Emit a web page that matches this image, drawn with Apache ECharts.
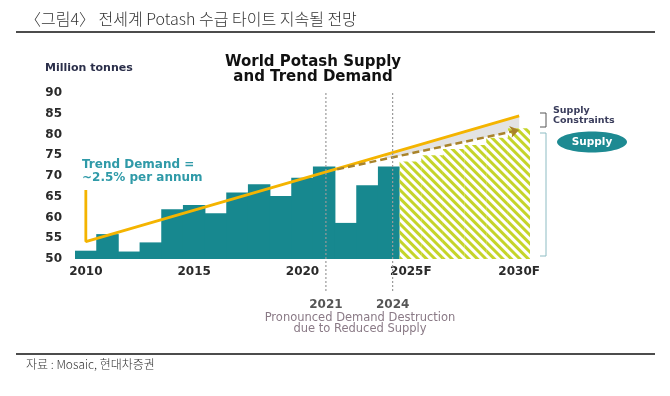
<!DOCTYPE html>
<html>
<head>
<meta charset="utf-8">
<script src="https://cdn.jsdelivr.net/npm/echarts@6/dist/echarts.min.js"></script>
<style>
  html, body { margin: 0; padding: 0; background: #fff; }
  #chart { width: 670px; height: 396px; }
</style>
</head>
<body>
<div id="chart"></div>
<script>
// categories
const years = ['2010', '2011', '2012', '2013', '2014', '2015', '2016', '2017', '2018', '2019',
  '2020', '2021', '2022', '2023', '2024', '2025F', '2026F', '2027F', '2028F', '2029F', '2030F']
// million tonnes
const actualSupply = [52, 56, 51.8, 54, 62, 63, 61, 66, 68, 65.2, 69.6, 72.3, 58.7, 67.8, 72.3]
const forecastSupply = [73.5, 75, 76.5, 77.5, 79.2, 81.5]
// [year index, value]
const trendDemand = [[0, 66.6], [0, 54.2], [20, 84.5]]
const constrainedDemand = [[11.6, 71.6], [20, 81.1]]
const gapTop = [[13.8, 75.1], [20, 84.5]]
const gapBottom = [[13.8, 74.1], [20, 81.1]]
const markerPos = [11.08, 14.16]
const markerLabels = ['2021', '2024']

const teal = '#17888f'
const gold = '#f4b400'
const fontBold = 'DejaVu Sans, Liberation Sans, sans-serif'
const fontKr = 'Noto Sans CJK KR, sans-serif'

const chart = echarts.init(document.getElementById('chart'))

const pad = n => Array(n).fill('-')

const baseGraphic = [
  // header
  { type: 'text', left: 25, top: 11, style: { text: '〈그림4〉 전세계 Potash 수급 타이트 지속될 전망', font: '300 16px ' + fontKr, fill: '#333' } },
  { type: 'line', shape: { x1: 16, y1: 32, x2: 655, y2: 32 }, style: { stroke: '#111', lineWidth: 1.5 } },
  // footer
  { type: 'line', shape: { x1: 16, y1: 354, x2: 655, y2: 354 }, style: { stroke: '#111', lineWidth: 1.5 } },
  { type: 'text', left: 26, top: 358, style: { text: '자료 : Mosaic, 현대차증권', font: '300 12px ' + fontKr, fill: '#333' } },
  // chart titles
  { type: 'text', left: 45, top: 63, style: { text: 'Million tonnes', font: 'bold 11px ' + fontBold, fill: '#2b2f4a' } },
  { type: 'text', x: 313, y: 55, style: { text: 'World Potash Supply\nand Trend Demand', font: 'bold 15px ' + fontBold, fill: '#111', align: 'center', lineHeight: 15 } },
  { type: 'text', x: 82, y: 158, style: { text: 'Trend Demand =\n~2.5% per annum', font: 'bold 12px ' + fontBold, fill: '#2f9aa8', lineHeight: 13 } },
  // right side notes
  { type: 'polyline', shape: { points: [[540, 113], [546, 113], [546, 127], [540, 127]] }, style: { stroke: '#555', lineWidth: 1, fill: null } },
  { type: 'text', x: 553, y: 106, style: { text: 'Supply\nConstraints', font: 'bold 9.5px ' + fontBold, fill: '#3a3d5c', lineHeight: 10 } },
  { type: 'polyline', shape: { points: [[540, 133], [546, 133], [546, 256], [540, 256]] }, style: { stroke: '#8dbcc3', lineWidth: 1, fill: null } },
  { type: 'ellipse', shape: { cx: 592, cy: 142, rx: 35, ry: 10.5 }, style: { fill: '#1d8a92' } },
  { type: 'text', x: 592, y: 142, style: { text: 'Supply', font: 'bold 10.5px ' + fontBold, fill: '#fff', align: 'center', verticalAlign: 'middle' } },
  // bottom annotation
  { type: 'text', x: 360, y: 313, style: { text: 'Pronounced Demand Destruction\ndue to Reduced Supply', font: '11.5px ' + fontBold, fill: '#8a7a86', align: 'center', lineHeight: 11 } }
]

chart.setOption({
  animation: false,
  grid: { left: 75, top: 93, width: 455, height: 166 },
  xAxis: [
    {
      type: 'category',
      data: years,
      axisLine: { show: false },
      axisTick: { show: false },
      axisLabel: {
        interval: 4,
        margin: 7,
        color: '#2a2a2a',
        fontWeight: 'bold',
        fontSize: 12,
        fontFamily: fontBold
      }
    },
    { type: 'value', min: -0.5, max: 20.5, show: false }
  ],
  yAxis: {
    type: 'value',
    min: 50,
    max: 90,
    interval: 5,
    axisLine: { show: false },
    axisTick: { show: false },
    splitLine: { show: false },
    axisLabel: {
      margin: 13,
      color: '#2a2a2a',
      fontWeight: 'bold',
      fontSize: 12,
      fontFamily: fontBold
    }
  },
  series: [
    {
      type: 'custom',
      xAxisIndex: 1,
      z: 1,
      data: [[0, 50]],
      renderItem: function(params, api) {
        const pts = gapTop.map(p => api.coord(p))
          .concat(gapBottom.slice().reverse().map(p => api.coord(p)))
        return { type: 'polygon', shape: { points: pts }, style: { fill: '#e3e3e3' } }
      }
    },
    {
      name: 'Supply',
      type: 'bar',
      barWidth: 22.5,
      barGap: '-100%',
      z: 2,
      data: actualSupply.concat(pad(forecastSupply.length)),
      itemStyle: { color: teal, borderWidth: 0 }
    },
    {
      name: 'Supply forecast',
      type: 'bar',
      barWidth: 22.5,
      barGap: '-100%',
      z: 2,
      data: pad(actualSupply.length).concat(forecastSupply),
      itemStyle: {
        color: '#fff',
        borderWidth: 0,
        decal: {
          symbol: 'rect',
          symbolSize: 1,
          color: '#c5d42a',
          dashArrayX: [1, 0],
          dashArrayY: [3, 3],
          rotation: Math.PI / 4
        }
      }
    },
    {
      name: 'Trend Demand',
      type: 'line',
      xAxisIndex: 1,
      z: 4,
      symbol: 'none',
      data: trendDemand,
      lineStyle: { color: gold, width: 2.8 }
    },
    {
      name: 'Constrained Demand',
      type: 'line',
      xAxisIndex: 1,
      z: 3,
      symbol: 'none',
      data: [],
      markLine: {
        silent: true,
        symbol: ['none', 'arrow'],
        symbolSize: 9,
        label: { show: false },
        lineStyle: { color: '#a9832a', width: 2.5, type: [7, 4] },
        data: [[{ coord: constrainedDemand[0] }, { coord: constrainedDemand[1] }]]
      }
    }
  ],
  graphic: baseGraphic
})

// dotted year markers, placed through the hidden value axis
const yTop = chart.convertToPixel({ yAxisIndex: 0 }, 90)
const markers = []
markerPos.forEach((v, i) => {
  const x = chart.convertToPixel({ xAxisIndex: 1 }, v)
  markers.push({ type: 'line', z: 10, shape: { x1: x, y1: yTop, x2: x, y2: 293 }, style: { stroke: '#9a9a9a', lineWidth: 1.2, lineDash: [2, 2] } })
  markers.push({ type: 'text', x: x, y: 305, style: { text: markerLabels[i], font: 'bold 12px ' + fontBold, fill: '#555', align: 'center', verticalAlign: 'middle' } })
})
chart.setOption({ graphic: baseGraphic.concat(markers) })
</script>
</body>
</html>
